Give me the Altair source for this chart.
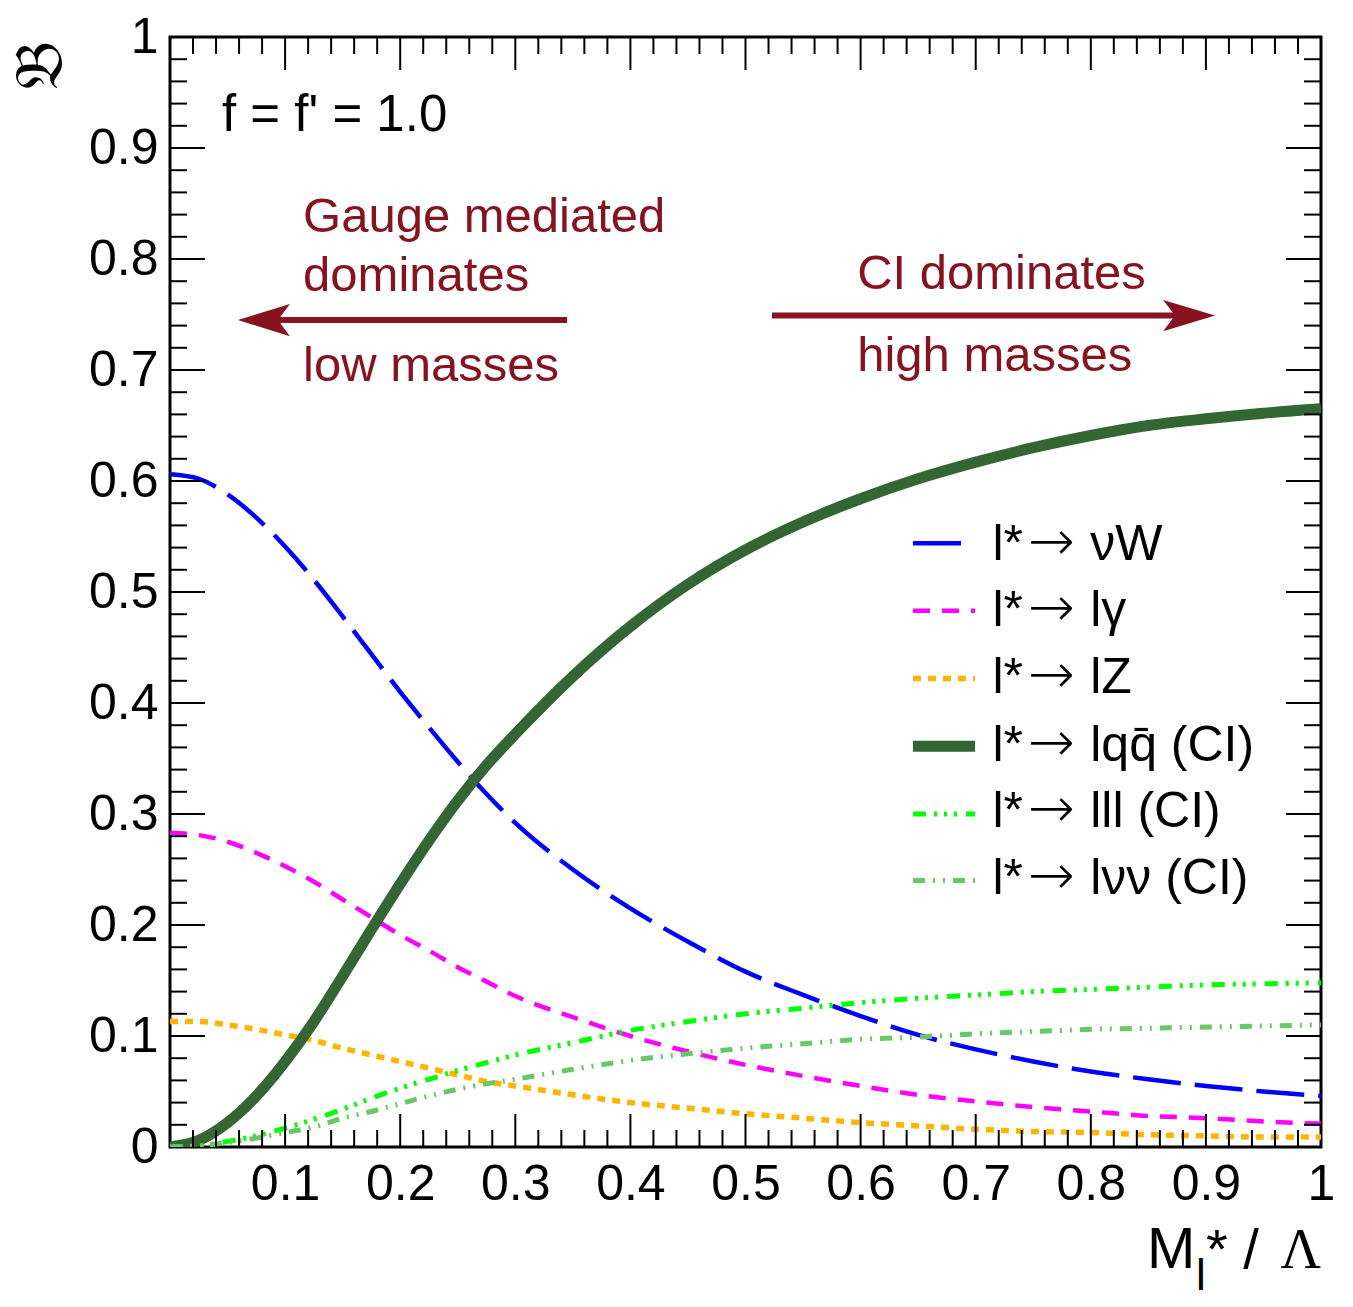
import altair as alt
import pandas as pd

# ---------------- data ----------------
mass = [0, 0.025, 0.05, 0.075, 0.1, 0.125, 0.15, 0.175, 0.2, 0.225, 0.25, 0.275, 0.3,
        0.35, 0.4, 0.45, 0.5, 0.55, 0.6, 0.65, 0.7, 0.75, 0.8, 0.85, 0.9, 0.95, 1.0]

br_nuW = [0.606, 0.602, 0.588, 0.567, 0.541, 0.511, 0.478, 0.444, 0.410, 0.378, 0.347, 0.318, 0.292,
          0.250, 0.215, 0.185, 0.158, 0.137, 0.118, 0.101, 0.088, 0.077, 0.068, 0.061, 0.055, 0.050, 0.046]
br_lgamma = [0.283, 0.281, 0.275, 0.265, 0.253, 0.239, 0.223, 0.207, 0.191, 0.177, 0.162, 0.149, 0.136,
             0.117, 0.100, 0.086, 0.074, 0.064, 0.055, 0.047, 0.041, 0.036, 0.032, 0.028, 0.026, 0.023, 0.021]
br_lZ = [0.113, 0.113, 0.110, 0.106, 0.101, 0.096, 0.089, 0.083, 0.077, 0.071, 0.065, 0.059, 0.055,
         0.047, 0.040, 0.035, 0.030, 0.026, 0.022, 0.019, 0.016, 0.014, 0.013, 0.011, 0.010, 0.009, 0.009]
br_lqq = [0.0, 0.006, 0.022, 0.046, 0.077, 0.113, 0.154, 0.196, 0.237, 0.276, 0.312, 0.344, 0.372,
          0.424, 0.469, 0.507, 0.538, 0.563, 0.584, 0.602, 0.617, 0.630, 0.641, 0.650, 0.656, 0.661, 0.665]
br_lll = [0.0, 0.001, 0.005, 0.010, 0.017, 0.025, 0.034, 0.044, 0.053, 0.061, 0.069, 0.076, 0.083,
          0.094, 0.105, 0.113, 0.120, 0.125, 0.130, 0.134, 0.137, 0.140, 0.142, 0.144, 0.146, 0.147, 0.148]
br_lnunu = [0.0, 0.001, 0.004, 0.008, 0.013, 0.018, 0.026, 0.032, 0.039, 0.046, 0.052, 0.057, 0.061,
            0.070, 0.078, 0.084, 0.089, 0.093, 0.097, 0.099, 0.102, 0.104, 0.106, 0.107, 0.108, 0.109, 0.110]

leg_parent = ["l*"] * 6
leg_arrow = ["\u2192"] * 6
leg_final = ["\u03bdW", "l\u03b3", "lZ", "lqq\u0304 (CI)", "lll (CI)", "l\u03bd\u03bd (CI)"]
values = [br_nuW, br_lgamma, br_lZ, br_lqq, br_lll, br_lnunu]

x_tick_labels = [0.1, 0.2, 0.3, 0.4, 0.5, 0.6, 0.7, 0.8, 0.9, 1.0]
y_tick_labels = [0, 0.1, 0.2, 0.3, 0.4, 0.5, 0.6, 0.7, 0.8, 0.9, 1.0]
minor_ticks = [round(i * 0.02, 2) for i in range(1, 50) if i % 5]

# legend placement (data coordinates)
leg_rows = [0.544, 0.483, 0.422, 0.361, 0.300, 0.240]
leg_text_rows = [0.529, 0.469, 0.409, 0.348, 0.288, 0.228]

# annotation texts
ann_text = ["Gauge mediated", "dominates", "low masses", "CI dominates", "high masses"]
ann_x = [0.1156, 0.1156, 0.1156, 0.597, 0.597]
ann_y = [0.824, 0.771, 0.690, 0.773, 0.699]

# ---------------- styles ----------------
colors = ["#0000ff", "#ff00ff", "#ffb400", "#336633", "#00ff00", "#66c866"]
dashes = [[48, 14], [17, 12], [8, 7], [1, 0], [13, 8, 3, 7, 3, 7, 3, 9], [12, 8, 2, 8, 2, 8]]
widths = [4.5, 4.5, 5.5, 11, 5, 5]
DARKRED = "#871321"
FONT = "Liberation Sans"

W, H = 1151, 1110

xscale = alt.Scale(domain=[0, 1], nice=False, zero=False)
yscale = alt.Scale(domain=[0, 1], nice=False, zero=False)
xaxis = alt.Axis(values=x_tick_labels, format=".1~f", ticks=False, domain=False, grid=False,
                 labelFont=FONT, labelFontSize=50, labelColor="black", labelPadding=12,
                 labelFlush=False, labelOverlap=False, title=None)
yaxis = alt.Axis(values=y_tick_labels, format=".1~f", ticks=False, domain=False, grid=False,
                 labelFont=FONT, labelFontSize=50, labelColor="black", labelPadding=12,
                 labelFlush=False, labelOverlap=False, labelBaseline="middle", title=None)


def X(f="m"):
    return alt.X(f, type="quantitative", scale=xscale, axis=xaxis)


def Y(f="b"):
    return alt.Y(f, type="quantitative", scale=yscale, axis=yaxis)


layers = []

# curves
for vals, c, d, w in zip(values, colors, dashes, widths):
    df = pd.DataFrame({"m": mass, "b": vals})
    mk = dict(color=c, strokeWidth=w, strokeCap="butt", clip=True, interpolate="monotone")
    if d != [1, 0]:
        mk["strokeDash"] = d
    layers.append(alt.Chart(df).mark_line(**mk).encode(x=X(), y=Y()))

# ticks (inside, on four sides)
xmaj = pd.DataFrame({"m": x_tick_labels[:-1]})
xmin = pd.DataFrame({"m": minor_ticks})
ymaj = pd.DataFrame({"b": y_tick_labels[1:-1]})
ymin = pd.DataFrame({"b": minor_ticks})
tk = dict(color="black", strokeWidth=2)
layers += [
    alt.Chart(xmaj).mark_rule(**tk).encode(x=X(), y=alt.value(H), y2=alt.value(H - 33)),
    alt.Chart(xmin).mark_rule(**tk).encode(x=X(), y=alt.value(H), y2=alt.value(H - 17)),
    alt.Chart(xmaj).mark_rule(**tk).encode(x=X(), y=alt.value(0), y2=alt.value(33)),
    alt.Chart(xmin).mark_rule(**tk).encode(x=X(), y=alt.value(0), y2=alt.value(17)),
    alt.Chart(ymaj).mark_rule(**tk).encode(y=Y(), x=alt.value(0), x2=alt.value(35)),
    alt.Chart(ymin).mark_rule(**tk).encode(y=Y(), x=alt.value(0), x2=alt.value(17)),
    alt.Chart(ymaj).mark_rule(**tk).encode(y=Y(), x=alt.value(W), x2=alt.value(W - 35)),
    alt.Chart(ymin).mark_rule(**tk).encode(y=Y(), x=alt.value(W), x2=alt.value(W - 17)),
]

# legend
for i, (c, d, w) in enumerate(zip(colors, dashes, widths)):
    x1 = 0.688 if i == 0 else 0.6994
    df = pd.DataFrame({"m": [0.6455, x1], "b": [leg_rows[i], leg_rows[i]]})
    mk = dict(color=c, strokeWidth=w, strokeCap="butt")
    if d != [1, 0]:
        mk["strokeDash"] = d
    layers.append(alt.Chart(df).mark_line(**mk).encode(x=X(), y=Y()))
leg_df = pd.DataFrame({"m": [0.7145] * 6, "m_arrow": [0.7455] * 6, "m_fin": [0.7995] * 6,
                       "b": leg_text_rows,
                       "t": leg_parent, "a": leg_arrow, "f": leg_final})
layers.append(alt.Chart(leg_df).mark_text(align="left", baseline="alphabetic", font=FONT,
                                          fontSize=50, color="black")
              .encode(x=X(), y=Y(), text="t:N"))
layers.append(alt.Chart(leg_df).mark_text(align="left", baseline="alphabetic", font="DejaVu Sans",
                                          fontSize=56, fontWeight=200, color="black")
              .encode(x=X("m_arrow"), y=Y(), text="a:N"))
layers.append(alt.Chart(leg_df).mark_text(align="left", baseline="alphabetic", font=FONT,
                                          fontSize=50, color="black")
              .encode(x=X("m_fin"), y=Y(), text="f:N"))

# annotations
ann_df = pd.DataFrame({"m": ann_x, "b": ann_y, "t": ann_text})
layers.append(alt.Chart(ann_df).mark_text(align="left", baseline="alphabetic", font=FONT,
                                          fontSize=49, color=DARKRED)
              .encode(x=X(), y=Y(), text="t:N"))
ff_df = pd.DataFrame({"m": [0.0452], "b": [0.915], "t": ["f = f' = 1.0"]})
layers.append(alt.Chart(ff_df).mark_text(align="left", baseline="alphabetic", font=FONT,
                                         fontSize=51, color="black")
              .encode(x=X(), y=Y(), text="t:N"))

# arrows
shaft_df = pd.DataFrame({"m": [0.075, 0.523], "m2": [0.345, 0.89], "b": [0.745, 0.749]})
layers.append(alt.Chart(shaft_df).mark_rule(color=DARKRED, strokeWidth=6)
              .encode(x=X(), x2="m2", y=Y()))
left_head = pd.DataFrame({"m": [0.059], "b": [0.745]})
right_head = pd.DataFrame({"m": [0.908], "b": [0.749]})
layers.append(alt.Chart(left_head).mark_point(shape="M 0 0 L 2 -0.62 L 1.54 0 L 2 0.62 Z",
                                              size=2704, filled=True, color=DARKRED, opacity=1)
              .encode(x=X(), y=Y()))
layers.append(alt.Chart(right_head).mark_point(shape="M 0 0 L -2 -0.6 L -1.54 0 L -2 0.6 Z",
                                               size=2704, filled=True, color=DARKRED, opacity=1)
              .encode(x=X(), y=Y()))

# axis titles
dummy = pd.DataFrame({"a": [0]})
layers.append(alt.Chart(dummy).mark_text(text="\U0001D505", angle=270, fontSize=68,
                                         font="DejaVu Serif", color="black", align="center",
                                         baseline="middle")
              .encode(x=alt.value(-128), y=alt.value(28)))
layers.append(alt.Chart(dummy).mark_text(text="M", fontSize=58, font=FONT, color="black",
                                         align="left", baseline="alphabetic")
              .encode(x=alt.value(977), y=alt.value(1231)))
layers.append(alt.Chart(dummy).mark_text(text="l", fontSize=44, font=FONT, color="black",
                                         align="left", baseline="alphabetic")
              .encode(x=alt.value(1026), y=alt.value(1253)))
layers.append(alt.Chart(dummy).mark_text(text="* /", fontSize=56, font=FONT, color="black",
                                         align="left", baseline="alphabetic")
              .encode(x=alt.value(1036), y=alt.value(1231)))
layers.append(alt.Chart(dummy).mark_text(text="\u039b", fontSize=56, font="Liberation Serif",
                                         color="black", align="right", baseline="alphabetic")
              .encode(x=alt.value(W), y=alt.value(1231)))

chart = alt.layer(*layers).properties(
    width=W, height=H,
    padding={"left": 170, "top": 37, "right": 32, "bottom": 160},
    autosize=alt.AutoSizeParams(type="none"),
    background="white",
).configure_view(stroke="black", strokeWidth=3)

chart.save("out.html", embed_options={"renderer": "svg", "actions": False})
